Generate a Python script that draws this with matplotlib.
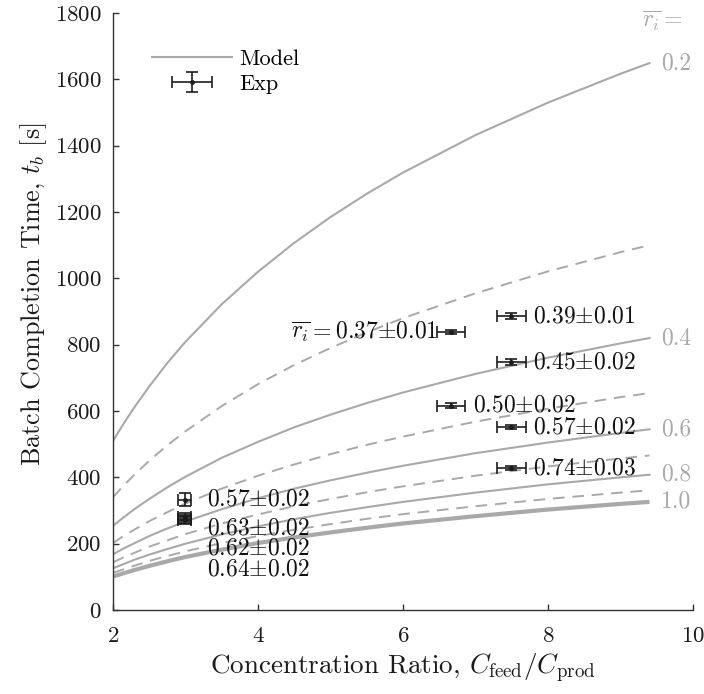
import numpy as np
import matplotlib.pyplot as plt
from matplotlib.container import ErrorbarContainer
from matplotlib.legend_handler import HandlerErrorbar

plt.rcParams['font.family'] = 'serif'
plt.rcParams['font.serif'] = ['cmr10']
plt.rcParams['mathtext.fontset'] = 'cm'
plt.rcParams['axes.formatter.use_mathtext'] = True

# Model curves: batch completion time vs concentration ratio, one per mean recovery
ratio_grid = [2, 2.15, 2.3, 2.5, 2.75, 3, 3.5, 4, 4.5, 5, 5.5, 6, 7, 8, 9, 9.4]
r_levels = [0.2, 0.3, 0.4, 0.5, 0.6, 0.7, 0.8, 0.9, 1.0]
t_r02 = [510, 563, 613, 674, 745, 809, 922, 1020, 1107, 1185, 1255, 1319, 1432, 1530, 1617, 1649]
t_r03 = [340, 376, 409, 450, 497, 539, 615, 681, 739, 790, 837, 880, 955, 1021, 1079, 1100]
t_r04 = [254, 280, 305, 335, 370, 402, 459, 507, 551, 589, 624, 656, 712, 761, 804, 820]
t_r05 = [202, 224, 243, 268, 295, 321, 366, 405, 439, 470, 498, 523, 568, 607, 642, 654]
t_r06 = [168, 186, 202, 223, 246, 267, 304, 337, 366, 391, 414, 435, 473, 505, 534, 545]
t_r07 = [144, 159, 173, 191, 210, 229, 261, 288, 313, 335, 355, 373, 405, 433, 457, 466]
t_r08 = [126, 139, 152, 167, 184, 200, 228, 252, 274, 293, 310, 326, 354, 379, 400, 408]
t_r09 = [112, 123, 134, 148, 163, 177, 202, 223, 242, 259, 275, 289, 313, 335, 354, 361]
t_r10 = [101, 111, 121, 133, 147, 160, 182, 202, 219, 234, 248, 261, 283, 303, 320, 326]
model_curves = [t_r02, t_r03, t_r04, t_r05, t_r06, t_r07, t_r08, t_r09, t_r10]
curve_tags = ['0.2', '', '0.4', '', '0.6', '', '0.8', '', '1.0']

# Experiments
exp_ratio = [6.66, 7.49, 7.49, 6.66, 7.49, 7.49, 2.99, 2.99, 2.99, 2.99]
exp_time = [838, 886, 748, 616, 552, 427, 333, 280, 275, 270]
exp_ratio_err = [0.19, 0.2, 0.2, 0.19, 0.2, 0.2, 0.09, 0.09, 0.09, 0.09]
exp_time_err = [7, 9, 8, 8, 5, 6, 20, 12, 12, 12]
exp_labels = [r'$\overline{r_i} = 0.37{\pm}0.01$', r'$0.39{\pm}0.01$', r'$0.45{\pm}0.02$',
              r'$0.50{\pm}0.02$', r'$0.57{\pm}0.02$', r'$0.74{\pm}0.03$',
              r'$0.57{\pm}0.02$', r'$0.63{\pm}0.02$', r'$0.62{\pm}0.02$', r'$0.64{\pm}0.02$']
# label offsets (points) and alignment
label_offsets = [(-9, 0), (16, 0), (16, 0), (16, 0), (16, 0), (16, 0),
                 (16, 0), (16, -8), (16, -21.5), (16, -35)]
label_ha = ['right'] + ['left'] * 9

grey = '#a9a9a9'
dark = '#1c1c1c'

fig = plt.figure(figsize=(7.04, 6.94), dpi=100)
ax = fig.add_axes([0.1605, 0.121, 0.8239, 0.8602])

for i, (r, t) in enumerate(zip(r_levels, model_curves)):
    if r == 1.0:
        ax.plot(ratio_grid, t, color=grey, lw=3.0, solid_capstyle='butt')
    elif i % 2 == 0:
        ax.plot(ratio_grid, t, color=grey, lw=1.5)
    else:
        ax.plot(ratio_grid, t, color=grey, lw=1.4, dashes=(6, 4))
    if curve_tags[i]:
        ax.annotate(curve_tags[i], xy=(ratio_grid[-1], t[-1]), xytext=(8, 0),
                    textcoords='offset points', ha='left', va='center',
                    color=grey, fontsize=17)

ax.text(9.29, 1775, r'$\overline{r_i} =$', color=grey, fontsize=17,
        ha='left', va='center')

ax.plot([], [], color=grey, lw=1.5, label='Model')
eb = ax.errorbar(exp_ratio, exp_time, xerr=exp_ratio_err, yerr=exp_time_err,
                 fmt='.', color=dark, ms=5, elinewidth=1.2, capsize=4,
                 capthick=1.2, label='Exp')

for x, y, s, off, ha in zip(exp_ratio, exp_time, exp_labels, label_offsets, label_ha):
    ax.annotate(s, xy=(x, y), xytext=off, textcoords='offset points',
                ha=ha, va='center', fontsize=17, color='#111111')

ax.legend(loc='upper left', bbox_to_anchor=(0.032, 0.973), frameon=False,
          fontsize=16, handlelength=3.6, handletextpad=0.35, labelspacing=0.25,
          handler_map={ErrorbarContainer: HandlerErrorbar(xerr_size=0.9, yerr_size=0.45)})

ax.set_xlim(2, 10)
ax.set_ylim(0, 1800)
ax.set_xticks([2, 4, 6, 8, 10])
ax.set_yticks(np.arange(0, 1801, 200))
ax.spines['top'].set_visible(False)
ax.spines['right'].set_visible(False)
for s in ['left', 'bottom']:
    ax.spines[s].set_color('#333333')
    ax.spines[s].set_linewidth(1.0)
ax.tick_params(direction='in', length=4, width=1.0, color='#333333',
               labelsize=16.5, labelcolor='#1a1a1a', pad=8)
ax.tick_params(axis='x', pad=12)

ax.set_xlabel(r'Concentration Ratio, $C_\mathrm{feed}/C_\mathrm{prod}$',
              fontsize=19.5, color='#1a1a1a', labelpad=4)
ax.set_ylabel(r'Batch Completion Time, $t_b$ [s]', fontsize=18.8,
              color='#1a1a1a')
ax.yaxis.set_label_coords(-0.11, 0.529)

fig.savefig('out.png', dpi=100)
